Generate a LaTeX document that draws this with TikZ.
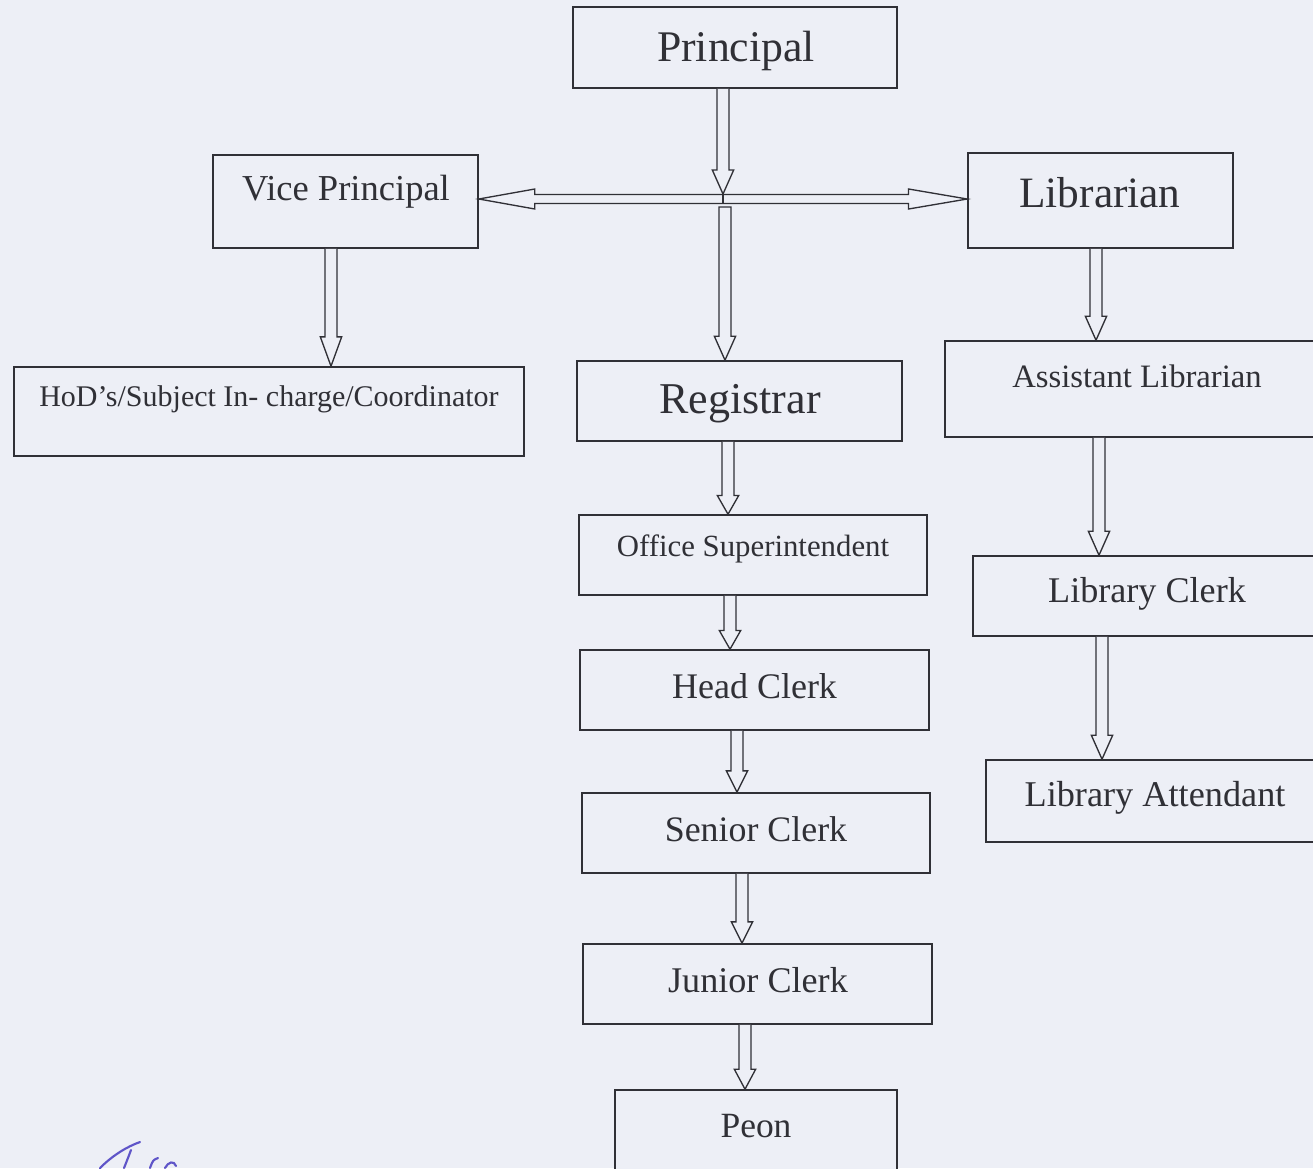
\documentclass[tikz,border=0pt]{standalone}
\usepackage{fontspec}
\setmainfont{Liberation Serif}
\usetikzlibrary{calc}
\definecolor{bg}{RGB}{237,239,246}
\definecolor{ink}{RGB}{48,48,54}
\definecolor{sig}{RGB}{95,85,200}
\tikzset{
  box/.style={draw=ink, line width=1.2pt, fill=bg, inner sep=0pt, rectangle},
  txt/.style={text=ink, inner sep=0pt},
  blk/.style={draw=ink, line width=1pt, fill=bg, line join=miter},
}
\newcommand\fs[1]{\fontsize{#1pt}{#1pt}\selectfont}
% open-top down block arrow: x taken from target point
\newcommand\varrow[3]{\draw[blk] let \p1=#1, \p2=#2 in
  (\x2-4.5pt,\y1) -- (\x2-4.5pt,\y2+#3) -- (\x2-8pt,\y2+#3) -- (\x2,\y2)
  -- (\x2+8pt,\y2+#3) -- (\x2+4.5pt,\y2+#3) -- (\x2+4.5pt,\y1);}
\newcommand\varrowc[3]{\draw[blk] let \p1=#1, \p2=#2 in
  (\x2-4.5pt,\y1) -- (\x2-4.5pt,\y2+#3) -- (\x2-8pt,\y2+#3) -- (\x2,\y2)
  -- (\x2+8pt,\y2+#3) -- (\x2+4.5pt,\y2+#3) -- (\x2+4.5pt,\y1) -- cycle;}
\begin{document}
\begin{tikzpicture}[x=0.75pt,y=-0.75pt]
\useasboundingbox (0,0) rectangle (1313,1168);
\clip (0,0) rectangle (1313,1168);
\fill[bg] (0,0) rectangle (1313,1168);

% boxes
\node[box, minimum width=243pt,    minimum height=60.75pt] (pr)   at (735,47.5) {};
\node[box, minimum width=198.75pt, minimum height=69.75pt] (vp)   at (345.5,201.5) {};
\node[box, minimum width=198.75pt, minimum height=71.25pt] (lib)  at (1100.5,200.5) {};
\node[box, minimum width=382.5pt,  minimum height=66.75pt] (hod)  at (269,411.5) {};
\node[box, minimum width=243.75pt, minimum height=60pt]    (reg)  at (739.5,401) {};
\node[box, minimum width=279.75pt, minimum height=72pt]    (asl)  at (1131.5,389) {};
\node[box, minimum width=261pt,    minimum height=60pt]    (os)   at (753,555) {};
\node[box, minimum width=258.75pt, minimum height=60pt]    (lc)   at (1145.5,596) {};
\node[box, minimum width=261.75pt, minimum height=60pt]    (hc)   at (754.5,690) {};
\node[box, minimum width=249pt,    minimum height=61.5pt]  (la)   at (1152,801) {};
\node[box, minimum width=261pt,    minimum height=60pt]    (sc)   at (756,833) {};
\node[box, minimum width=261.75pt, minimum height=60pt]    (jc)   at (757.5,984) {};
\node[box, minimum width=211.5pt,  minimum height=63.75pt] (peon) at (756,1132.5) {};

% texts
\node[txt, font=\fs{32.8}] (prT)   at (736,51)    {Principal};
\node[txt, font=\fs{27.4}] (vpT)   at (346,192)   {Vice Principal};
\node[txt, font=\fs{32.5}] (libT)  at (1100,193)  {Librarian};
\node[txt, font=\fs{22.5}] (hodT)  at (269,399)   {HoD’s/Subject In- charge/Coordinator};
\node[txt, font=\fs{33}]   (regT)  at (740,404)   {Registrar};
\node[txt, font=\fs{24.5}] (aslT)  at (1137,376)  {Assistant Librarian};
\node[txt, font=\fs{23.1}] (osT)   at (753,549)   {Office Superintendent};
\node[txt, font=\fs{27.1}] (lcT)   at (1147,594)  {Library Clerk};
\node[txt, font=\fs{27}]   (hcT)   at (754.5,686) {Head Clerk};
\node[txt, font=\fs{27.2}] (laT)   at (1155,798)  {Library Attendant};
\node[txt, font=\fs{26.9}] (scT)   at (756,829)   {Senior Clerk};
\node[txt, font=\fs{27.1}] (jcT)   at (758,980)   {Junior Clerk};
\node[txt, font=\fs{26.6}] (peonT) at (756,1126)  {Peon};

% junction coordinates
\coordinate (junc) at (723,194);
\coordinate (juncb) at (723,203.5);
\coordinate (regtop) at (725,207);

% horizontal double block arrow between Vice Principal and Librarian
\draw[blk] let \p1=(vp.east), \p2=(lib.west) in
  (\x1,-149.25pt) -- (\x1+42pt,-141.75pt) -- (\x1+42pt,-145.9pt) -- (\x2-44pt,-145.9pt)
  -- (\x2-44pt,-141.75pt) -- (\x2,-149.25pt) -- (\x2-44pt,-156.75pt) -- (\x2-44pt,-152.6pt)
  -- (\x1+42pt,-152.6pt) -- (\x1+42pt,-156.75pt) -- cycle;

% vertical block arrows
\varrow{(pr.south)}{(junc)}{18pt}
\draw[ink, line width=0.8pt] (junc) -- (juncb);
\varrowc{(regtop)}{([xshift=-10.875pt]reg.north)}{18pt}
\varrow{(vp.south)}{([xshift=46.5pt]hod.north)}{22pt}
\varrow{(reg.south)}{([xshift=-18.75pt]os.north)}{14pt}
\varrow{(lib.south)}{([xshift=-26.625pt]asl.north)}{18pt}
\varrow{(asl.south)}{([xshift=-34.875pt]lc.north)}{18pt}
\varrow{(lc.south)}{([xshift=-37.5pt]la.north)}{18pt}
\varrow{(os.south)}{([xshift=-18.375pt]hc.north)}{14pt}
\varrow{(hc.south)}{([xshift=-14.25pt]sc.north)}{16pt}
\varrow{(sc.south)}{([xshift=-11.625pt]jc.north)}{16pt}
\varrow{(jc.south)}{([xshift=-8.25pt]peon.north)}{15pt}

% signature fragment
\draw[sig, line width=1.6pt, line cap=round]
  (100,1168) .. controls (112,1156) and (126,1147) .. (140,1142)
  (131,1150) .. controls (128,1158) .. (124,1168)
  (150,1168) .. controls (153,1160) .. (158,1158)
  (165,1168) .. controls (168,1162) and (174,1160) .. (176,1166);
\end{tikzpicture}
\end{document}
